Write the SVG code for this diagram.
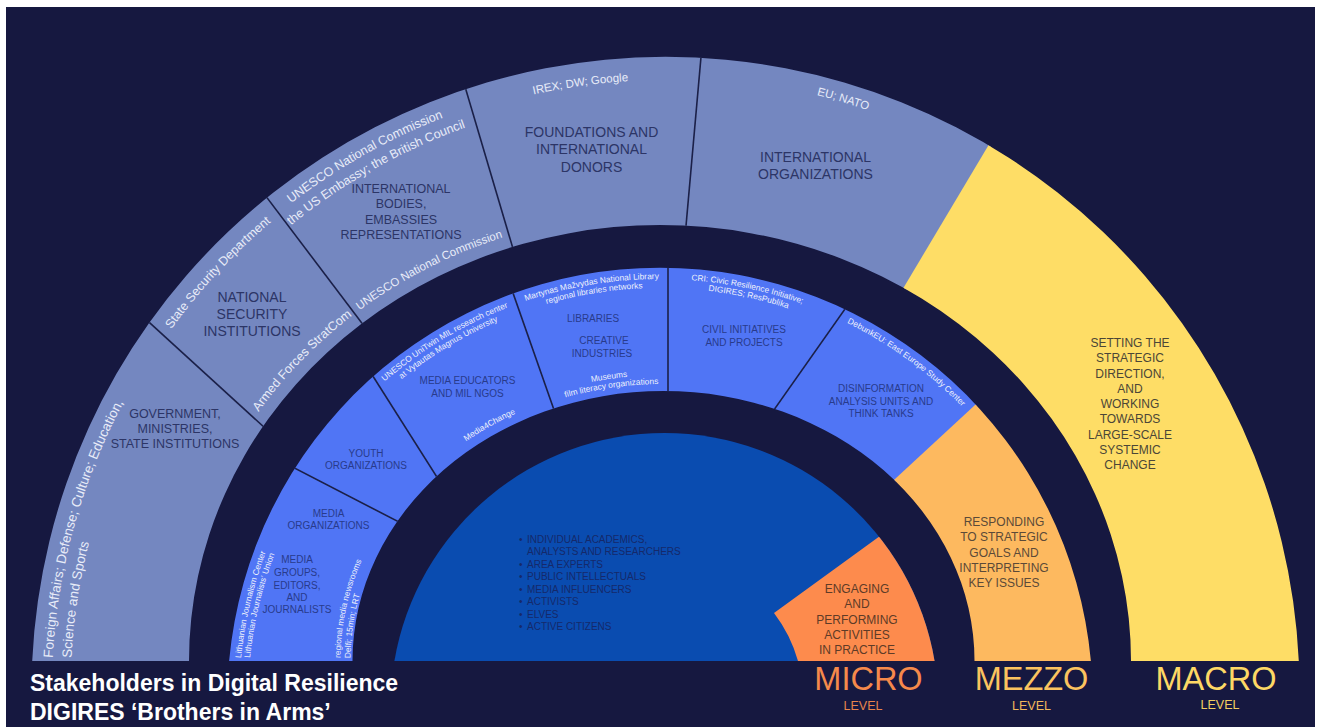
<svg xmlns="http://www.w3.org/2000/svg" width="1325" height="727" viewBox="0 0 1325 727">
<style>
text{font-family:"Liberation Sans",Arial,sans-serif}
.lg{fill:#2c3566;text-anchor:middle}
.lb{fill:#283b8c;text-anchor:middle;font-size:10px}
.wt{fill:#e8ecf8}
.ws{fill:#eef1fb;font-size:8.4px}
.mid{text-anchor:middle}
.grey{fill:#7487c0}
.blue{fill:#5075f5}
.sep{stroke:#1b2048;stroke-width:1.6;fill:none}
.lvl{text-anchor:middle;font-size:32.5px}
.lvs{text-anchor:middle;font-size:12.5px}
</style>
<defs>
<clipPath id="c1"><path d="M32.2 661A634 634 0 0 1 1298.8 661L1131 661A471 436 0 0 0 189 661Z"/></clipPath>
<clipPath id="c2"><path d="M229.1 661A432.7 432.7 0 0 1 1090.9 661L974.5 661A311 270 0 0 0 352.5 661Z"/></clipPath>
<clipPath id="c3"><path d="M394.4 661A274 274 0 0 1 934.6 661Z"/></clipPath>
<path id="p1" d="M52.8 657.9A613.5 613.5 0 0 1 358.8 158.7"/>
<path id="p2" d="M71.4 658A595 595 0 0 1 209.7 307.5"/>
<path id="p3" d="M102.2 450.9A612 612 0 0 1 387.7 144.7"/>
<path id="p4" d="M235.9 251.3A614 614 0 0 1 512.8 95.3"/>
<path id="p5" d="M241.9 269.4A597 597 0 0 1 529.1 108.8"/>
<path id="p6" d="M427.2 128.5A610 610 0 0 1 739.9 84.6"/>
<path id="p7" d="M716.3 78.1A614 614 0 0 1 960.8 151.7"/>
<path id="p8" d="M229.6 457.6A483 448 0 0 1 397 285.3"/>
<path id="p9" d="M325.7 337.6A483 448 0 0 1 544.8 225.9"/>
<path id="p10" d="M362.3 402.3A421 421 0 0 1 536.9 297.4"/>
<path id="p11" d="M368.7 408.7A412 412 0 0 1 539.5 306"/>
<path id="p12" d="M425.7 474.3A320 279 0 0 1 564.6 395.7"/>
<path id="p13" d="M492.8 313.6A421 421 0 0 1 693.8 280.3"/>
<path id="p14" d="M497.7 321.3A412 412 0 0 1 694.5 289.4"/>
<path id="p15" d="M527.4 401A327 286 0 0 1 694.3 376.3"/>
<path id="p16" d="M531.6 408.9A318 277 0 0 1 694 385.3"/>
<path id="p17" d="M645.3 279.3A421 421 0 0 1 844.6 321.6"/>
<path id="p18" d="M648.5 288.2A412 412 0 0 1 843.2 331"/>
<path id="p19" d="M804.7 304.6A421 421 0 0 1 992.2 441.4"/>
<path id="p20" d="M241.1 658.2A421 421 0 0 1 389.4 377.5"/>
<path id="p21" d="M250.1 658A412 412 0 0 1 395.2 384.4"/>
<path id="p22" d="M340.5 658A323 282 0 0 1 416.1 479.7"/>
<path id="p23" d="M350.5 658.2A313 272 0 0 1 392.4 525"/>
</defs>
<rect width="1325" height="727" fill="#ffffff"/>
<rect x="6" y="7" width="1309" height="720" fill="#161840"/>

<!-- Outer ring: macro -->
<g id="government">
<polygon class="grey" clip-path="url(#c1)" points="-10,261.8 83,261.8 328.7,486.2 328.7,700 -10,700"/>
<text class="lg" font-size="12.5"><tspan x="175" y="418">GOVERNMENT,</tspan><tspan x="175" y="433">MINISTRIES,</tspan><tspan x="175" y="448">STATE INSTITUTIONS</tspan></text>
<text class="wt" font-size="13.5"><textPath href="#p1">Foreign Affairs; Defense; Culture; Education,</textPath></text>
<text class="wt" font-size="13.5"><textPath href="#p2">Science and Sports</textPath></text>
</g>
<g id="national-security">
<polygon class="grey" clip-path="url(#c1)" points="83,261.8 212.2,125.2 416.8,395.8 328.7,486.2"/>
<text class="lg" font-size="14"><tspan x="252" y="302">NATIONAL</tspan><tspan x="252" y="319">SECURITY</tspan><tspan x="252" y="336">INSTITUTIONS</tspan></text>
<text class="wt mid" font-size="12.5"><textPath href="#p3" startOffset="50%">State Security Department</textPath></text>
<text class="wt mid" font-size="12.5"><textPath href="#p8" startOffset="50%">Armed Forces StratCom</textPath></text>
</g>
<g id="international-bodies">
<polygon class="grey" clip-path="url(#c1)" points="212.2,125.2 438.1,-4.2 540.4,341.2 416.8,395.8"/>
<text class="lg" font-size="12.5"><tspan x="401" y="193">INTERNATIONAL</tspan><tspan x="401" y="208">BODIES,</tspan><tspan x="401" y="224">EMBASSIES</tspan><tspan x="401" y="239">REPRESENTATIONS</tspan></text>
<text class="wt mid" font-size="12.5"><textPath href="#p4" startOffset="50%">UNESCO National Commission</textPath></text>
<text class="wt mid" font-size="12.5"><textPath href="#p5" startOffset="50%">the US Embassy; the British Council</textPath></text>
<text class="wt mid" font-size="11.5"><textPath href="#p9" startOffset="50%">UNESCO National Commission</textPath></text>
</g>
<g id="foundations">
<polygon class="grey" clip-path="url(#c1)" points="438.1,-4.2 710,-44.4 677,327.4 540.4,341.2"/>
<text class="lg" font-size="14"><tspan x="591.5" y="137">FOUNDATIONS AND</tspan><tspan x="591.5" y="154">INTERNATIONAL</tspan><tspan x="591.5" y="172">DONORS</tspan></text>
<text class="wt mid" font-size="11.5"><textPath href="#p6" startOffset="50%">IREX; DW; Google</textPath></text>
</g>
<g id="international-organizations">
<polygon class="grey" clip-path="url(#c1)" points="710,-44.4 1042.4,61.4 857.6,371.6 677,327.4"/>
<text class="lg" font-size="14"><tspan x="815.5" y="162">INTERNATIONAL</tspan><tspan x="815.5" y="179">ORGANIZATIONS</tspan></text>
<text class="wt mid" font-size="11.5"><textPath href="#p7" startOffset="50%">EU; NATO</textPath></text>
</g>
<g id="macro">
<polygon fill="#fedd66" clip-path="url(#c1)" points="1038.4,61.4 1400,61.4 1400,700 853.6,700 853.6,371.6"/>
<text fill="#4b4637" font-size="12" text-anchor="middle"><tspan x="1130" y="346.7">SETTING THE</tspan><tspan x="1130" y="362.3">STRATEGIC</tspan><tspan x="1130" y="377.7">DIRECTION,</tspan><tspan x="1130" y="392.7">AND</tspan><tspan x="1130" y="408.3">WORKING</tspan><tspan x="1130" y="423.3">TOWARDS</tspan><tspan x="1130" y="439">LARGE-SCALE</tspan><tspan x="1130" y="454.3">SYSTEMIC</tspan><tspan x="1130" y="469.3">CHANGE</tspan></text>
<text class="lvl" fill="#fdd865" x="1216" y="689.5">MACRO</text>
<text class="lvs" fill="#f2cf60" x="1220" y="708.5">LEVEL</text>
</g>

<!-- Middle ring: mezzo -->
<g id="media-organizations">
<polygon class="blue" clip-path="url(#c2)" points="100,436.3 233,436.3 460.3,553.7 460.3,700 100,700"/>
<text class="lb"><tspan x="328.5" y="516.7">MEDIA</tspan><tspan x="328.5" y="529">ORGANIZATIONS</tspan></text>
<text class="lb"><tspan x="297" y="563.3">MEDIA</tspan><tspan x="297" y="576">GROUPS,</tspan><tspan x="297" y="588.7">EDITORS,</tspan><tspan x="297" y="601">AND</tspan><tspan x="297" y="613.3">JOURNALISTS</tspan></text>
<text class="ws"><textPath href="#p20">Lithuanian Journalism Center</textPath></text>
<text class="ws"><textPath href="#p21">Lithuanian Journalists’ Union</textPath></text>
<text class="ws"><textPath href="#p22">regional media newsrooms</textPath></text>
<text class="ws"><textPath href="#p23">Delfi; 15min; LRT</textPath></text>
</g>
<g id="youth-organizations">
<polygon class="blue" clip-path="url(#c2)" points="233,436.3 335.3,316.7 474.7,536.7 460.3,553.7"/>
<text class="lb"><tspan x="366" y="456.7">YOUTH</tspan><tspan x="366" y="469">ORGANIZATIONS</tspan></text>
</g>
<g id="media-educators">
<polygon class="blue" clip-path="url(#c2)" points="335.3,316.7 489,224.6 577,475.4 474.7,536.7"/>
<text class="lb"><tspan x="467.5" y="384">MEDIA EDUCATORS</tspan><tspan x="467.5" y="396.7">AND MIL NGOS</tspan></text>
<text class="ws mid"><textPath href="#p10" startOffset="50%">UNESCO UniTwin MIL research center</textPath></text>
<text class="ws mid"><textPath href="#p11" startOffset="50%">at Vytautas Magnus University</textPath></text>
<text class="ws mid"><textPath href="#p12" startOffset="50%">Media4Change</textPath></text>
</g>
<g id="libraries">
<polygon class="blue" clip-path="url(#c2)" points="489,224.6 668,193.2 668,463.8 577,475.4"/>
<text class="lb"><tspan x="593" y="321.7">LIBRARIES</tspan><tspan x="604" y="344">CREATIVE</tspan><tspan x="602" y="357.3">INDUSTRIES</tspan></text>
<text class="ws mid"><textPath href="#p13" startOffset="50%">Martynas Mažvydas National Library</textPath></text>
<text class="ws mid"><textPath href="#p14" startOffset="50%">regional libraries networks</textPath></text>
<text class="ws mid"><textPath href="#p15" startOffset="50%">Museums</textPath></text>
<text class="ws mid"><textPath href="#p16" startOffset="50%">film literacy organizations</textPath></text>
</g>
<g id="civil-initiatives">
<polygon class="blue" clip-path="url(#c2)" points="668,193.2 886.4,250.2 734.6,465.8 668,463.8"/>
<text class="lb"><tspan x="744" y="333.3">CIVIL INITIATIVES</tspan><tspan x="744" y="346">AND PROJECTS</tspan></text>
<text class="ws mid"><textPath href="#p17" startOffset="50%">CRI: Civic Resilience Initiative;</textPath></text>
<text class="ws mid"><textPath href="#p18" startOffset="50%">DIGIRES; ResPublika</textPath></text>
</g>
<g id="disinformation-units">
<polygon class="blue" clip-path="url(#c2)" points="886.4,250.2 1027,360.6 851,523.4 734.6,465.8"/>
<text class="lb"><tspan x="881" y="391.7">DISINFORMATION</tspan><tspan x="881" y="405">ANALYSIS UNITS AND</tspan><tspan x="881" y="417.3">THINK TANKS</tspan></text>
<text class="ws mid"><textPath href="#p19" startOffset="50%">DebunkEU: East Europe Study Center</textPath></text>
</g>
<g id="mezzo">
<polygon fill="#fdb95f" clip-path="url(#c2)" points="1023,360.6 1200,360.6 1200,700 847,700 847,523.4"/>
<text fill="#5b4a38" font-size="12" text-anchor="middle"><tspan x="1004" y="525.7">RESPONDING</tspan><tspan x="1004" y="541.3">TO STRATEGIC</tspan><tspan x="1004" y="556.7">GOALS AND</tspan><tspan x="1004" y="572.3">INTERPRETING</tspan><tspan x="1004" y="587.3">KEY ISSUES</tspan></text>
<text class="lvl" fill="#fbc35f" x="1031.5" y="690">MEZZO</text>
<text class="lvs" fill="#f0b95c" x="1031.5" y="710">LEVEL</text>
</g>

<!-- Inner disc: micro -->
<g id="individuals">
<path fill="#0a4cb0" d="M394.4 661A274 274 0 0 1 934.6 661Z"/>
<text fill="#15296a" font-size="10"><tspan x="519" y="543">•</tspan><tspan x="519" y="567.9">•</tspan><tspan x="519" y="580.3">•</tspan><tspan x="519" y="592.7">•</tspan><tspan x="519" y="605.1">•</tspan><tspan x="519" y="617.6">•</tspan><tspan x="519" y="630">•</tspan></text>
<text fill="#15296a" font-size="10"><tspan x="527" y="543">INDIVIDUAL ACADEMICS,</tspan><tspan x="527" y="555.4">ANALYSTS AND RESEARCHERS</tspan><tspan x="527" y="567.9">AREA EXPERTS</tspan><tspan x="527" y="580.3">PUBLIC INTELLECTUALS</tspan><tspan x="527" y="592.7">MEDIA INFLUENCERS</tspan><tspan x="527" y="605.1">ACTIVISTS</tspan><tspan x="527" y="617.6">ELVES</tspan><tspan x="527" y="630">ACTIVE CITIZENS</tspan></text>
</g>
<g id="micro">
<path fill="#fd8b4d" clip-path="url(#c3)" d="M774 613L943.6 489.8L1000 489.8L1000 700L798 700L798 661A143 143 0 0 0 774 613Z"/>
<text fill="#5e3b27" font-size="12" text-anchor="middle"><tspan x="857" y="593.3">ENGAGING</tspan><tspan x="857" y="608.3">AND</tspan><tspan x="857" y="624">PERFORMING</tspan><tspan x="857" y="639.3">ACTIVITIES</tspan><tspan x="857" y="654.3">IN PRACTICE</tspan></text>
<text class="lvl" fill="#f5894b" x="868.5" y="690">MICRO</text>
<text class="lvs" fill="#e8844c" x="863" y="710">LEVEL</text>
</g>

<g id="separators">
<g clip-path="url(#c1)">
<line class="sep" x1="83" y1="261.8" x2="328.7" y2="486.2"/>
<line class="sep" x1="212.2" y1="125.2" x2="416.8" y2="395.8"/>
<line class="sep" x1="438.1" y1="-4.2" x2="540.4" y2="341.2"/>
<line class="sep" x1="710" y1="-44.4" x2="677" y2="327.4"/>
</g>
<g clip-path="url(#c2)">
<line class="sep" x1="233" y1="436.3" x2="460.3" y2="553.7"/>
<line class="sep" x1="335.3" y1="316.7" x2="474.7" y2="536.7"/>
<line class="sep" x1="489" y1="224.6" x2="577" y2="475.4"/>
<line class="sep" x1="668" y1="193.2" x2="668" y2="463.8"/>
<line class="sep" x1="886.4" y1="250.2" x2="734.6" y2="465.8"/>
</g>
</g>

<g id="title">
<text fill="#ffffff" font-size="23" font-weight="bold"><tspan x="30" y="691">Stakeholders in Digital Resilience</tspan><tspan x="30" y="720">DIGIRES ‘Brothers in Arms’</tspan></text>
</g>
</svg>
